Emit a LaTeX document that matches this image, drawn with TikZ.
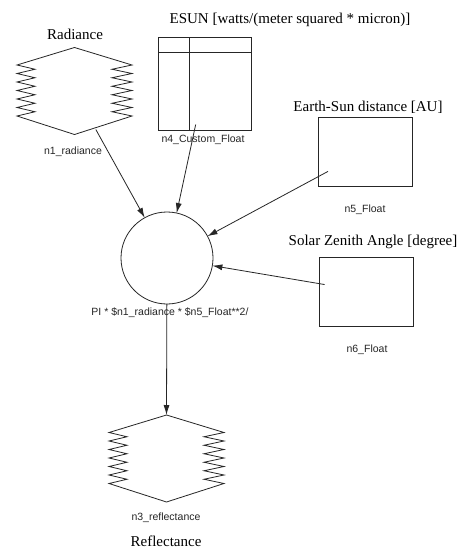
\documentclass[tikz,border=0pt]{standalone}
\usepackage{fontspec}
\setmainfont{Liberation Serif}
\setsansfont{Liberation Sans}
\usetikzlibrary{arrows.meta}
\tikzset{
  shapeline/.style={draw=black!85, line width=0.8pt},
  invis/.style={inner sep=0pt, outer sep=0pt},
  boxnode/.style={draw=black!85, line width=0.8pt, inner sep=0pt, outer sep=0pt},
  titletext/.style={font=\fontsize{15}{17}\selectfont, inner sep=0pt},
  idtext/.style={font=\sffamily\fontsize{10.5}{12}\selectfont, inner sep=0pt, text=black!85},
  conn/.style={draw=black!85, line width=0.8pt, -{Latex[length=10pt,width=6pt]}},
  fromicon/.style={shorten <=42pt}
}
\newcommand\zigzagshape[1]{%
  \begin{scope}[shift={(#1.center)}]
  \draw[shapeline] (0,-43.5) -- (-57.5,-26)
    \foreach \i in {1,...,12}{ -- ({ifthenelse(isodd(\i),-39.5,-57.5)},{-26+\i*4.25}) }
    -- (0,43.5) -- (57.5,25)
    \foreach \i in {1,...,12}{ -- ({ifthenelse(isodd(\i),37.5,57.5)},{25-\i*4.25}) }
    -- cycle;
  \end{scope}}
\begin{document}
\begin{tikzpicture}[x=1pt,y=-1pt]
\useasboundingbox (0,0) rectangle (465,549);
\fill[white] (0,0) rectangle (465,549);

% n1 radiance
\node[invis, minimum width=115pt, minimum height=87pt] (n1) at (74.5,91) {};
\zigzagshape{n1}
\node[titletext] (t1) at (75,34) {Radiance};
\node[idtext] (l1) at (73,152) {n1\_radiance};

% n4 custom float
\node[boxnode, minimum width=93pt, minimum height=93pt] (n4) at (204.5,83.5) {};
\draw[shapeline] ([yshift=-15pt]n4.north west) -- ([yshift=-15pt]n4.north east);
\draw[shapeline] ([xshift=31pt]n4.north west) -- ([xshift=31pt]n4.south west);
\node[titletext] (t4) at (290,20) {ESUN [watts/(meter squared * micron)]};
\node[idtext] (l4) at (203,140) {n4\_Custom\_Float};

% n5 float
\node[boxnode, minimum width=94pt, minimum height=69pt] (n5) at (365,151.5) {};
\node[titletext] (t5) at (368,107) {Earth-Sun distance [AU]};
\node[idtext] (l5) at (365,210) {n5\_Float};

% n6 float
\node[boxnode, minimum width=94pt, minimum height=69pt] (n6) at (366,291.5) {};
\node[titletext] (t6) at (373,242) {Solar Zenith Angle [degree]};
\node[idtext] (l6) at (367,350) {n6\_Float};

% function circle
\node[boxnode, circle, minimum size=92pt] (c) at (167,258) {};
\node[idtext] (lc) at (170,313) {PI * \$n1\_radiance * \$n5\_Float**2/};

% n3 reflectance
\node[invis, minimum width=116pt, minimum height=87pt] (n3) at (166.5,458.5) {};
\zigzagshape{n3}
\node[idtext] (l3) at (166,518) {n3\_reflectance};
\node[titletext] (t3) at (166,541) {Reflectance};

% connectors
\draw[conn, shorten <=44pt] (n1.center) -- (c);
\draw[conn, fromicon] (n4.center) -- (c);
\draw[conn, fromicon] (n5.center) -- (c);
\draw[conn, fromicon] (n6.center) -- (c);
\draw[conn] (c) -- (n3.north);
\end{tikzpicture}
\end{document}
